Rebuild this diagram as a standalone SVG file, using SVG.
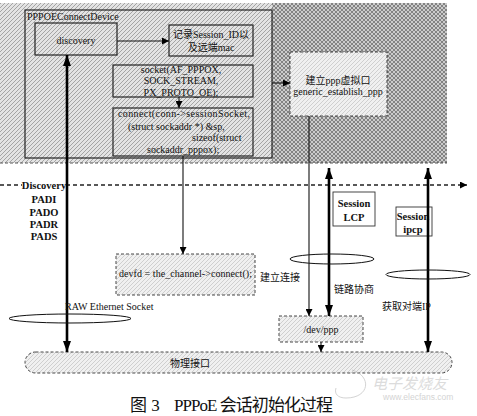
<svg xmlns="http://www.w3.org/2000/svg" width="477" height="416" viewBox="0 0 477 416">
<style>
.t{font-family:"Liberation Serif","Noto Sans CJK SC",serif;font-size:10px;fill:#111}
.b{font-family:"Liberation Serif","Noto Sans CJK SC",serif;font-size:10.5px;font-weight:bold;fill:#111}
.box{stroke:#222;stroke-width:1.2}
.dbox{stroke:#333;stroke-width:0.9;stroke-dasharray:3 2}
.thin{stroke:#111;stroke-width:1.1;fill:none}
.thick{stroke:#000;stroke-width:2.6;fill:none}
.ell{fill:none;stroke:#111;stroke-width:1}
</style>
<defs>
<pattern id="hl" width="4" height="4" patternUnits="userSpaceOnUse">
<rect width="4" height="4" fill="#e3e3e3"/>
<path d="M0,4 L4,0 M-1,1 L1,-1 M3,5 L5,3" stroke="#949494" stroke-width="0.8"/>
</pattern>
<pattern id="hd" width="4" height="4" patternUnits="userSpaceOnUse">
<rect width="4" height="4" fill="#cccccc"/>
<path d="M0,4 L4,0 M-1,1 L1,-1 M3,5 L5,3 M0,0 L4,4" stroke="#707070" stroke-width="0.8"/>
</pattern>
<pattern id="hv" width="4" height="4" patternUnits="userSpaceOnUse">
<rect width="4" height="4" fill="#f0f0f0"/>
<path d="M0,4 L4,0 M-1,1 L1,-1 M3,5 L5,3" stroke="#c2c2c2" stroke-width="0.7"/>
</pattern>
<marker id="a" viewBox="0 0 10 10" refX="10" refY="5" markerWidth="7" markerHeight="7" markerUnits="userSpaceOnUse" orient="auto">
<path d="M0,0 L10,5 L0,10 z" fill="#000"/>
</marker>
<marker id="A" viewBox="0 0 10 10" refX="10" refY="5" markerWidth="11" markerHeight="8" markerUnits="userSpaceOnUse" orient="auto" preserveAspectRatio="none">
<path d="M0,0 L10,5 L0,10 z" fill="#000"/>
</marker>
<marker id="As" viewBox="0 0 10 10" refX="0" refY="5" markerWidth="11" markerHeight="8" markerUnits="userSpaceOnUse" orient="auto" preserveAspectRatio="none">
<path d="M10,0 L0,5 L10,10 z" fill="#000"/>
</marker>
</defs>
<rect width="477" height="416" fill="#fff"/>

<g id="upper-region">
<rect x="0" y="3" width="447" height="160" fill="url(#hl)"/>
<rect x="272" y="3" width="175" height="160" fill="url(#hd)"/>
<line x1="0" y1="163" x2="447" y2="163" stroke="#444" stroke-width="0.9" stroke-dasharray="3 2"/>
</g>

<g id="pppoe-connect-device">
<rect x="25" y="10" width="247" height="148" fill="url(#hl)" class="box"/>
<text class="t" x="27" y="20">PPPOEConnectDevice</text>
</g>

<g id="discovery">
<rect x="35" y="23" width="82" height="32" fill="url(#hl)" class="box"/>
<text class="t" x="76" y="44" text-anchor="middle" font-size="11">discovery</text>
</g>

<g id="record-session">
<rect x="169" y="25" width="84" height="31" fill="url(#hl)" class="box"/>
<text class="t" x="211" y="38" text-anchor="middle">记录Session_ID以</text>
<text class="t" x="211" y="51" text-anchor="middle">及远端mac</text>
</g>

<g id="socket">
<rect x="113" y="65" width="140" height="32" fill="url(#hl)" class="box"/>
<text class="t" x="181" y="73" text-anchor="middle">socket(AF_PPPOX,</text>
<text class="t" x="181" y="84" text-anchor="middle">SOCK_STREAM,</text>
<text class="t" x="181" y="96" text-anchor="middle">PX_PROTO_OE);</text>
</g>

<g id="connect">
<rect x="113" y="108" width="140" height="48" fill="url(#hl)" class="box"/>
<text class="t" x="118" y="117" textLength="132">connect(conn-&gt;sessionSocket,</text>
<text class="t" x="128" y="130">(struct sockaddr *) &amp;sp,</text>
<text class="t" x="192" y="141">sizeof(struct</text>
<text class="t" x="147" y="153">sockaddr_pppox);</text>
</g>

<g id="establish-ppp">
<rect x="290" y="52" width="97" height="64" fill="url(#hv)" class="dbox"/>
<text class="t" x="338" y="84" text-anchor="middle">建立ppp虚拟口</text>
<text class="t" x="338" y="95" text-anchor="middle">generic_establish_ppp</text>
</g>

<g id="discovery-labels">
<text class="b" x="44" y="189" text-anchor="middle">Discovery</text>
<text class="b" x="44" y="203" text-anchor="middle">PADI</text>
<text class="b" x="44" y="216" text-anchor="middle">PADO</text>
<text class="b" x="44" y="228" text-anchor="middle">PADR</text>
<text class="b" x="44" y="240" text-anchor="middle">PADS</text>
</g>

<g id="devfd">
<rect x="116" y="254" width="139" height="41" fill="url(#hv)" class="dbox"/>
<text class="t" x="119" y="277" textLength="133">devfd = the_channel-&gt;connect();</text>
</g>

<g id="session-lcp">
<rect x="333" y="192" width="42" height="34" fill="#fff" stroke="#333" stroke-width="0.9"/>
<text class="b" x="354" y="207" text-anchor="middle">Session</text>
<text class="b" x="354" y="221" text-anchor="middle">LCP</text>
</g>

<g id="session-ipcp">
<rect x="396" y="207" width="36" height="29" fill="#fff" stroke="#333" stroke-width="0.9"/>
<text class="b" x="413" y="220" text-anchor="middle">Session</text>
<text class="b" x="413" y="233" text-anchor="middle">ipcp</text>
</g>

<g id="dev-ppp">
<rect x="279" y="316" width="84" height="26" fill="url(#hv)" class="dbox"/>
<text class="t" x="321" y="333" text-anchor="middle">/dev/ppp</text>
</g>

<g id="physical-interface">
<rect x="25" y="352" width="427" height="21" rx="10.5" fill="url(#hv)" class="dbox"/>
<text class="t" x="190" y="366.5" text-anchor="middle">物理接口</text>
</g>

<g id="connectors">
<line x1="0" y1="185" x2="22" y2="185" stroke="#222" stroke-width="1.6" stroke-dasharray="4 3"/>
<line x1="66" y1="185" x2="467" y2="185" stroke="#222" stroke-width="1.6" stroke-dasharray="4 3" marker-end="url(#a)"/>
<line x1="117" y1="41" x2="169" y2="41" class="thin" marker-end="url(#a)"/>
<line x1="179" y1="97" x2="179" y2="108" class="thin" stroke-width="1.6" marker-end="url(#a)"/>
<line x1="272" y1="83" x2="290" y2="83" class="thin" stroke-width="1.6" marker-end="url(#a)"/>
<line x1="183" y1="156" x2="183" y2="254" class="thin" marker-end="url(#a)"/>
<line x1="67" y1="55" x2="67" y2="352" class="thick" marker-start="url(#As)" marker-end="url(#A)"/>
<line x1="309" y1="116" x2="309" y2="316" class="thin" marker-end="url(#a)"/>
<line x1="329" y1="168" x2="329" y2="316" class="thick" marker-start="url(#As)" marker-end="url(#A)"/>
<line x1="428" y1="168" x2="428" y2="352" class="thick" marker-start="url(#As)" marker-end="url(#A)"/>
<line x1="321" y1="342" x2="321" y2="352" class="thin" marker-end="url(#a)"/>
<ellipse cx="332" cy="259" rx="42" ry="5" class="ell"/>
<ellipse cx="428" cy="274.5" rx="42" ry="4.5" class="ell"/>
<ellipse cx="70" cy="318.5" rx="61" ry="4.5" class="ell"/>
</g>

<g id="labels">
<text class="t" x="260" y="281">建立连接</text>
<text class="t" x="334" y="293">链路协商</text>
<text class="t" x="65" y="310">RAW Ethernet Socket</text>
<text class="t" x="382" y="310">获取对端IP</text>
</g>

<g id="caption">
<text x="130" y="411" font-family="Liberation Serif,Noto Sans CJK SC,serif" font-size="17" fill="#111">图 3</text>
<text x="174" y="411" font-family="Liberation Serif,Noto Sans CJK SC,serif" font-size="17" fill="#111" textLength="159">PPPoE 会话初始化过程</text>
</g>

<g id="watermark" opacity="0.5">
<path d="M352,370 C372,376 370,398 346,398 C338,398 334,394 336,388" fill="none" stroke="#aaa" stroke-width="1"/>
<text x="372" y="389" font-family="Noto Sans CJK SC,sans-serif" font-size="15" font-style="italic" fill="#bbb">电子发烧友</text>
<text x="383" y="400" font-family="Liberation Sans,sans-serif" font-size="8.5" fill="#aaa">www.elecfans.com</text>
</g>
</svg>
